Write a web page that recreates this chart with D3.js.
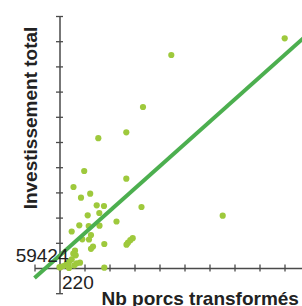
<!DOCTYPE html>
<html>
<head>
<meta charset="utf-8">
<script src="https://cdn.jsdelivr.net/npm/d3@7"></script>
<style>
  html, body { margin: 0; padding: 0; background: #fff; }
  svg { display: block; font-family: "Liberation Sans", Arial, Helvetica, sans-serif; }
</style>
</head>
<body>
<svg id="chart" width="302" height="306"></svg>
<script>
// origin of the crossing axes (min of each variable)
const xOrigin = 220;
const yOrigin = 59424;
const xStep = 1000;     // unlabelled tick step, pigs
const yStep = 100000;   // unlabelled tick step, euros

// Nb porcs transformés
const porcs = [9228, 4692, 3560, 2892, 1772, 1208, 2892, 780, 1448, 1080,
  1708, 2000, 3500, 1812, 1348, 6748, 2500, 1012, 1820, 1388,
  708, 1480, 1132, 1400, 2012, 2900, 2960, 3052, 3148, 1560,
  1480, 840, 772, 868, 708, 612, 908, 508, 812, 372,
  240, 1040, 2012, 572, 220, 600];
// Investissement total
const invest = [970870, 904610, 698270, 597880, 574470, 444320, 413770, 380830, 354250, 338370,
  308220, 305440, 301470, 277660, 268540, 266950, 243940, 228860, 227270, 226080,
  204260, 190370, 173310, 172510, 154660, 151880, 159810, 169730, 177670, 144740,
  135610, 128070, 116170, 109820, 93950, 86010, 78070, 76490, 70140, 67360,
  61410, 80450, 60610, 75300, 63000, 59424];

// fitted line: invest = fitIntercept + fitSlope * porcs
const fitSlope = 88.46;
const fitIntercept = 88960;

const xTicks = d3.range(-1, 11).map(i => xOrigin + i * xStep);
const yTicks = d3.range(-1, 11).map(i => yOrigin + i * yStep);

const svg = d3.select('#chart');
const x = d3.scaleLinear().domain([xOrigin - xStep, xOrigin + 10 * xStep]).range([34.5, 309.5]);
const y = d3.scaleLinear().domain([yOrigin - yStep, yOrigin + 10 * yStep]).range([293.2, 16]);

const axCol = '#4a4a4a';

// x axis through the origin
const gx = svg.append('g')
  .attr('transform', `translate(0,${y(yOrigin)})`)
  .call(d3.axisBottom(x).tickValues(xTicks).tickFormat('').tickSizeOuter(0));
gx.select('.domain').attr('stroke', axCol).attr('stroke-width', 1.5);
gx.selectAll('.tick line').attr('stroke', axCol).attr('stroke-width', 1.3).attr('y1', -3.5).attr('y2', 3.5);

// y axis through the origin
const gy = svg.append('g')
  .attr('transform', `translate(${x(xOrigin)},0)`)
  .call(d3.axisLeft(y).tickValues(yTicks).tickFormat('').tickSizeOuter(0));
gy.select('.domain').attr('stroke', axCol).attr('stroke-width', 1.5);
gy.selectAll('.tick line').attr('stroke', axCol).attr('stroke-width', 1.3).attr('x1', -3.5).attr('x2', 3.5);

// points
svg.append('g').selectAll('circle')
  .data(porcs.map((p, i) => [p, invest[i]]))
  .join('circle')
  .attr('cx', d => x(d[0]))
  .attr('cy', d => y(d[1]))
  .attr('r', 3.1)
  .attr('fill', '#9ec93c');

// regression line over the x axis extent
const [x0, x1] = x.domain();
svg.append('line')
  .attr('x1', x(x0)).attr('y1', y(fitIntercept + fitSlope * x0))
  .attr('x2', x(x1)).attr('y2', y(fitIntercept + fitSlope * x1))
  .attr('stroke', '#4caf4f').attr('stroke-width', 4);

// origin labels
svg.append('text').attr('x', 68.5).attr('y', 262).attr('text-anchor', 'end')
  .attr('font-size', 19).attr('fill', '#222').text(yOrigin);
svg.append('text').attr('x', 62).attr('y', 288.5)
  .attr('font-size', 19).attr('fill', '#222').text(xOrigin);

// axis titles
svg.append('text').attr('x', 101.5).attr('y', 305)
  .attr('font-size', 19).attr('font-weight', 'bold').attr('fill', '#222')
  .text('Nb porcs transformés');
svg.append('text')
  .attr('transform', 'translate(37,118) rotate(-90)')
  .attr('text-anchor', 'middle')
  .attr('font-size', 19).attr('font-weight', 'bold').attr('fill', '#222')
  .text('Investissement total');
</script>
</body>
</html>
